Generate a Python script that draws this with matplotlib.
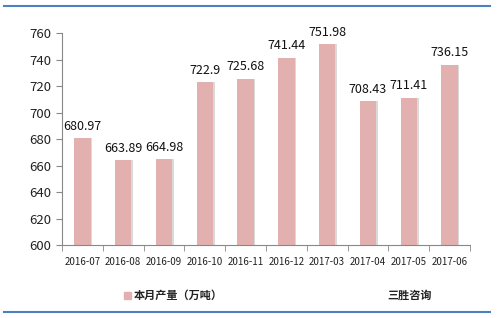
import matplotlib
matplotlib.use("Agg")
import matplotlib.pyplot as plt
from matplotlib.lines import Line2D
from matplotlib.patches import Rectangle

plt.rcParams['font.family'] = ['Noto Sans CJK SC', 'DejaVu Sans']

categories = ["2016-07", "2016-08", "2016-09", "2016-10", "2016-11", "2016-12",
              "2017-03", "2017-04", "2017-05", "2017-06"]
values = [680.97, 663.89, 664.98, 722.9, 725.68, 741.44, 751.98, 708.43, 711.41, 736.15]
value_labels = ["680.97", "663.89", "664.98", "722.9", "725.68", "741.44",
                "751.98", "708.43", "711.41", "736.15"]
series_name = "本月产量（万吨）"
source = "三胜咨询"

fig = plt.figure(figsize=(5, 3.18), dpi=100)
ax = fig.add_axes([0.124, 0.2296, 0.816, 0.666])

bar_color = "#E3B0B0"
x = list(range(len(categories)))
# shadow
ax.bar([i + 0.04 for i in x], values, width=0.4, color="#DADADA", zorder=1)
ax.bar(x, values, width=0.4, color=bar_color, zorder=2)

for i, (v, lab) in enumerate(zip(values, value_labels)):
    ax.text(i, v + 4, lab, ha="center", va="bottom", fontsize=9, color="#111111")

ax.set_ylim(600, 760)
ax.set_yticks(range(600, 761, 20))
ax.set_xlim(-0.5, len(categories) - 0.5)
ax.set_xticks(x)
ax.set_xticklabels(categories, fontsize=7, color="#222222")
ax.set_xticks([i - 0.5 for i in range(len(categories) + 1)], minor=True)
ax.tick_params(axis="x", which="major", length=0, pad=9)
ax.tick_params(axis="x", which="minor", length=4, color="#888888")
ax.tick_params(axis="y", labelsize=9.5, length=4, color="#888888", labelcolor="#222222")

for s in ["top", "right"]:
    ax.spines[s].set_visible(False)
ax.spines["left"].set_color("#888888")
ax.spines["bottom"].set_color("#888888")

# legend
fig.patches.append(Rectangle((124 / 500, 1 - 299 / 318), 7 / 500, 7 / 318,
                             transform=fig.transFigure, color=bar_color))
fig.text(134 / 500, 1 - 295 / 318, series_name, fontsize=8, fontweight="bold",
         va="center", ha="left", color="#222222")
fig.text(410 / 500, 1 - 295 / 318, source, fontsize=8, fontweight="bold",
         va="center", ha="center", color="#222222")

# blue frame lines
fig.add_artist(Line2D([4 / 500, 490 / 500], [1 - 6 / 318, 1 - 6 / 318],
                      transform=fig.transFigure, color="#4F7FC0", lw=1.5))
fig.add_artist(Line2D([4 / 500, 490 / 500], [1 - 312 / 318, 1 - 312 / 318],
                      transform=fig.transFigure, color="#4F7FC0", lw=1.5))

fig.savefig("out.png", dpi=100)
